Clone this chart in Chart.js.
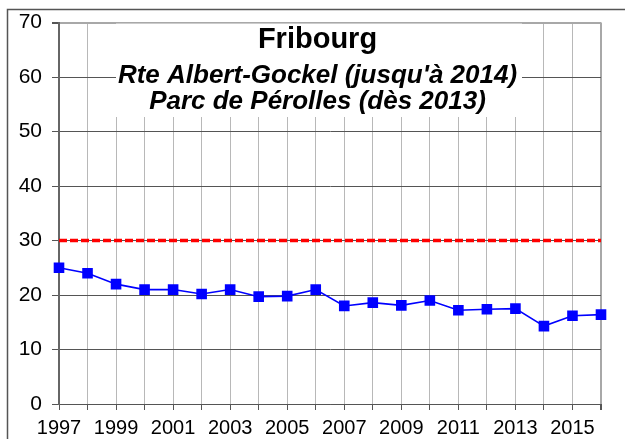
<!DOCTYPE html>
<html>
<head>
<meta charset="utf-8">
<script src="https://cdn.jsdelivr.net/npm/chart.js@4/dist/chart.umd.min.js"></script>
<style>
  html, body { margin: 0; padding: 0; background: #fff; }
  #wrap { position: relative; width: 625px; height: 439px; }
</style>
</head>
<body>
<div id="wrap"><canvas id="c" width="625" height="439"></canvas></div>
<script>
const years = ['1997','1998','1999','2000','2001','2002','2003','2004','2005','2006',
               '2007','2008','2009','2010','2011','2012','2013','2014','2015','2016'];
const no2Values = [25, 24, 22, 21, 21, 20.2, 21, 19.7, 19.8, 21,
                   18, 18.6, 18.1, 19, 17.2, 17.4, 17.5, 14.3, 16.2, 16.4];
const limitValues = [30, 30, 30, 30, 30, 30, 30, 30, 30, 30,
                     30, 30, 30, 30, 30, 30, 30, 30, 30, 30];
const yTicks = [0, 10, 20, 30, 40, 50, 60, 70];
const titleLines = ['Fribourg', "Rte Albert-Gockel (jusqu'à 2014)", 'Parc de Pérolles (dès 2013)'];

const FONT = '"Liberation Sans", Arial, Helvetica, sans-serif';

const frameAndTitle = {
  id: 'frameAndTitle',
  beforeDraw(chart) {
    const ctx = chart.ctx;
    ctx.save();
    ctx.strokeStyle = '#555';
    ctx.lineWidth = 1.5;
    ctx.beginPath();
    ctx.moveTo(7.5, 439);
    ctx.lineTo(7.5, 9.5);
    ctx.lineTo(625, 9.5);
    ctx.stroke();
    ctx.restore();
  },
  beforeDatasetsDraw(chart) {
    const ctx = chart.ctx;
    const ca = chart.chartArea;
    const cx = (ca.left + ca.right) / 2 - 12.5;
    ctx.save();
    ctx.fillStyle = '#fff';
    ctx.fillRect(116, ca.top + 1, 522 - 116, 116 - ca.top);
    ctx.fillStyle = '#000';
    ctx.textAlign = 'center';
    ctx.textBaseline = 'alphabetic';
    ctx.font = 'bold 29px ' + FONT;
    ctx.fillText(titleLines[0], cx, 48);
    ctx.font = 'italic bold 26px ' + FONT;
    ctx.fillText(titleLines[1], cx, 83);
    ctx.fillText(titleLines[2], cx, 109);
    ctx.restore();
  }
};

new Chart(document.getElementById('c'), {
  type: 'line',
  data: {
    labels: years,
    datasets: [
      {
        label: 'Valeur limite',
        data: limitValues,
        borderColor: '#ff0000',
        borderWidth: 3.5,
        borderDash: [8, 3],
        pointRadius: 0,
        fill: false,
        order: 2
      },
      {
        label: 'NO2',
        data: no2Values,
        borderColor: '#0000ff',
        backgroundColor: '#0000ff',
        borderWidth: 1.6,
        pointStyle: 'rect',
        pointRadius: 7.5,
        pointBorderWidth: 0,
        pointBackgroundColor: '#0000ff',
        fill: false,
        order: 1
      }
    ]
  },
  options: {
    responsive: false,
    animation: false,
    plugins: {
      legend: { display: false },
      title: { display: false },
      tooltip: { enabled: false }
    },
    layout: { padding: { top: 20, right: 24, left: 0, bottom: 0 } },
    scales: {
      x: {
        offset: false,
        afterFit(scale) { scale.height = 35; },
        grid: {
          color: (c) => c.index === years.length - 1 ? '#a8a8a8' : '#b8b8b8',
          lineWidth: (c) => c.index === years.length - 1 ? 2 : 1,
          tickLength: 6,
          tickColor: '#555',
          drawOnChartArea: true
        },
        border: { display: true, color: '#555', width: 1 },
        ticks: {
          autoSkip: false,
          maxRotation: 0,
          padding: 6,
          color: '#000',
          font: { family: FONT, size: 20 },
          callback: function(v, i) { return i % 2 === 0 ? years[i] : ''; }
        }
      },
      y: {
        min: 0,
        max: 70,
        afterFit(scale) { scale.width = 59; },
        afterBuildTicks(scale) { scale.ticks = yTicks.map(v => ({ value: v })); },
        grid: {
          color: (c) => c.tick && c.tick.value === 70 ? '#a8a8a8' : '#555',
          lineWidth: (c) => c.tick && c.tick.value === 70 ? 2 : 1,
          tickLength: 7,
          tickColor: '#555'
        },
        border: { display: true, color: '#666', width: 2 },
        ticks: {
          padding: 10,
          color: '#000',
          font: { family: FONT, size: 21 }
        }
      }
    }
  },
  plugins: [frameAndTitle]
});
</script>
</body>
</html>
